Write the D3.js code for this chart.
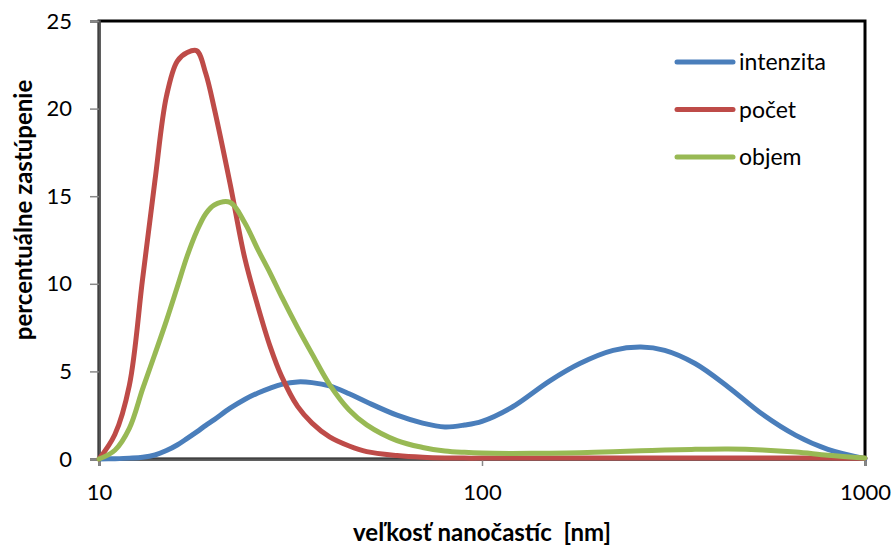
<!DOCTYPE html>
<html>
<head>
<meta charset="utf-8">
<script src="https://cdn.jsdelivr.net/npm/d3@7"></script>
<style>
  body { margin: 0; background: #fff; }
  svg { display: block; font-family: Lato, "Open Sans", sans-serif; }
</style>
</head>
<body>
<svg id="chart" width="895" height="547"></svg>
<script>
// particle size grid [nm]
const sizes = [10, 11, 12, 13, 14, 15, 16, 17, 18, 19, 20, 22, 24, 26, 28, 30, 33, 36, 40, 45, 50,
               60, 70, 80, 90, 100, 120, 150, 180, 220, 260, 300, 360, 440, 540, 660, 800, 1000];

const intenzita = [0, 0.02, 0.05, 0.1, 0.23, 0.48, 0.8, 1.18, 1.55, 1.92, 2.25, 2.9, 3.4, 3.77, 4.05, 4.26, 4.4, 4.36, 4.17, 3.72, 3.25,
                   2.5, 2.05, 1.83, 1.94, 2.15, 2.97, 4.45, 5.45, 6.2, 6.39, 6.2, 5.45, 4.1, 2.55, 1.35, 0.55, 0.02];

const pocet = [0, 1.4, 4.2, 10.3, 15.9, 20.7, 22.7, 23.2, 23.3, 22.0, 20.0, 15.7, 11.5, 8.7, 6.4, 4.7, 3.0, 2.05, 1.26, 0.74, 0.42,
               0.2, 0.1, 0.06, 0.05, 0.05, 0.05, 0.05, 0.05, 0.05, 0.05, 0.05, 0.05, 0.05, 0.05, 0.05, 0.05, 0.04];

const objem = [0, 0.5, 1.75, 4.0, 6.0, 7.9, 9.8, 11.6, 13.0, 14.0, 14.5, 14.65, 13.5, 11.95, 10.6, 9.25, 7.5, 6.0, 4.25, 2.8, 1.95,
               1.05, 0.66, 0.46, 0.38, 0.34, 0.32, 0.33, 0.36, 0.42, 0.47, 0.51, 0.55, 0.57, 0.52, 0.4, 0.22, 0.06];

const seriesNames = ["intenzita", "počet", "objem"];
const seriesColors = ["#4A7EBB", "#BE4B48", "#98B954"];
const xTicks = [10, 100, 1000];
const yTicks = [0, 5, 10, 15, 20, 25];

const svg = d3.select("#chart");
const margin = {left: 99, top: 21, right: 30, bottom: 88};
const width = 895 - margin.left - margin.right;
const height = 547 - margin.top - margin.bottom;

const x = d3.scaleLog().domain([10, 1000]).range([0, width]);
const y = d3.scaleLinear().domain([0, 25]).range([height, 0]);

const g = svg.append("g").attr("transform", `translate(${margin.left},${margin.top})`);

// plot area border (top/right show black)
g.append("rect")
    .attr("x", 0).attr("y", 0)
    .attr("width", width).attr("height", height)
    .attr("fill", "none")
    .attr("stroke", "#000")
    .attr("stroke-width", 3);

// y axis
const yAxis = g.append("g")
    .call(d3.axisLeft(y).tickValues(yTicks).tickSize(9).tickPadding(18).tickFormat(d3.format("d")));
yAxis.select(".domain").attr("stroke", "#555").attr("stroke-width", 2.5);
yAxis.selectAll(".tick line").attr("stroke", "#888").attr("stroke-width", 1.5);
yAxis.selectAll(".tick text").attr("font-size", 22).attr("fill", "#000").attr("font-family", "Lato");

// x axis
const xAxis = g.append("g")
    .attr("transform", `translate(0,${height})`)
    .call(d3.axisBottom(x).tickValues(xTicks).tickSize(7).tickPadding(18).tickFormat(d3.format("d")));
xAxis.select(".domain").attr("stroke", "#555").attr("stroke-width", 2.5);
xAxis.selectAll(".tick line").attr("stroke", "#888").attr("stroke-width", 1.5);
xAxis.selectAll(".tick text").attr("font-size", 22).attr("fill", "#000").attr("font-family", "Lato");

// series lines
const allSeries = [intenzita, pocet, objem];
const line = d3.line()
    .x((d, i) => x(sizes[i]))
    .y(d => y(Math.max(0, d)))
    .curve(d3.curveCatmullRom.alpha(0.5));

// draw order like the reference: blue, red, green
allSeries.forEach((vals, k) => {
    g.append("path")
        .datum(vals)
        .attr("d", line)
        .attr("fill", "none")
        .attr("stroke", seriesColors[k])
        .attr("stroke-width", 5)
        .attr("stroke-linejoin", "round")
        .attr("stroke-linecap", "round");
});

// legend
const legend = svg.append("g").attr("transform", "translate(677,62)");
seriesNames.forEach((name, k) => {
    const row = legend.append("g").attr("transform", `translate(0,${k * 47.5})`);
    row.append("line")
        .attr("x1", 0).attr("x2", 56)
        .attr("y1", 0).attr("y2", 0)
        .attr("stroke", seriesColors[k])
        .attr("stroke-width", 5)
        .attr("stroke-linecap", "round");
    row.append("text")
        .attr("x", 62).attr("y", 0)
        .attr("dy", "0.35em")
        .attr("font-size", 23)
        .text(name);
});

// axis titles
svg.append("text")
    .attr("x", 482).attr("y", 541)
    .attr("text-anchor", "middle")
    .attr("font-size", 24)
    .attr("font-weight", "bold")
    .style("white-space", "pre")
    .text("veľkosť nanočastíc  [nm]");

svg.append("text")
    .attr("transform", "translate(24,210) rotate(-90)")
    .attr("text-anchor", "middle")
    .attr("dy", "0.35em")
    .attr("font-size", 24)
    .attr("font-weight", "bold")
    .text("percentuálne zastúpenie");
</script>
</body>
</html>
